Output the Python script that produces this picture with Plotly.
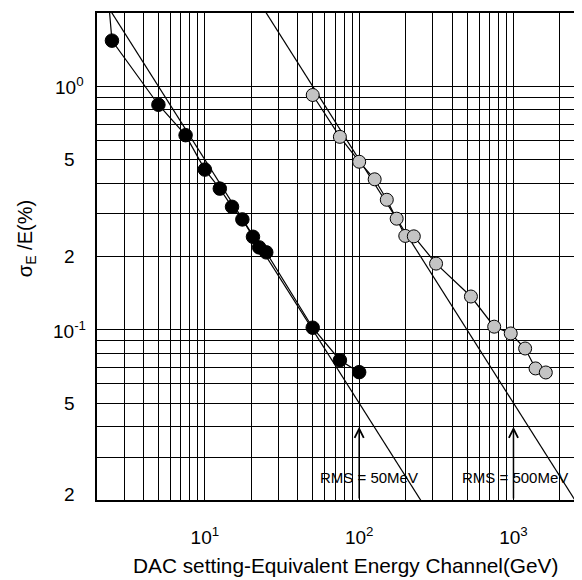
import numpy as np
import plotly.graph_objects as go

# ---- data ----
black_E = [2.25, 2.5, 5, 7.5, 10, 12.5, 15, 17.5, 20.5, 22.5, 25, 50, 75, 100]
black_sigma = [3.4, 1.54, 0.84, 0.63, 0.455, 0.38, 0.32, 0.284, 0.241, 0.218, 0.208, 0.102, 0.075, 0.067]

gray_E = [50, 75, 100, 126, 151, 175, 199, 226, 315, 530, 750, 960, 1190, 1390, 1620]
gray_sigma = [0.921, 0.62, 0.49, 0.415, 0.342, 0.286, 0.243, 0.242, 0.187, 0.137, 0.103, 0.0966, 0.0838, 0.0694, 0.0668]

rms_gev = [0.05, 0.5]                      # noise RMS in GeV
rms_labels = ["RMS = 50MeV", "RMS = 500MeV"]
rms_label_E = [115, 1020]
rms_label_sigma = 0.0247
arrow_E = [100, 1000]
arrow_tip = 0.04
arrow_base = 0.02
line_E = [1.0, 10000.0]

x_grid = [3, 4, 5, 6, 7, 8, 9, 10, 20, 30, 40, 50, 60, 70, 80, 90,
          100, 200, 300, 400, 500, 600, 700, 800, 900, 1000, 2000]
x_tick_text = {10: "10<sup>1</sup>", 100: "10<sup>2</sup>", 1000: "10<sup>3</sup>"}

y_grid = [0.03, 0.04, 0.05, 0.06, 0.07, 0.08, 0.09, 0.1,
          0.2, 0.3, 0.4, 0.5, 0.6, 0.7, 0.8, 0.9, 1.0]
y_label_vals = [0.02, 0.05, 0.1, 0.2, 0.5, 1.0]
y_label_text = ["2", "5", "10<sup>-1</sup>", "2", "5", "10<sup>0</sup>"]

FONT = "Liberation Sans, Arial, Helvetica, sans-serif"

fig = go.Figure()

# RMS noise lines: sigma_E/E (%) = 100 * rms / E
for rms in rms_gev:
    fig.add_trace(go.Scatter(
        x=line_E, y=[100.0 * rms / e for e in line_E], mode="lines",
        line=dict(color="black", width=1.2), showlegend=False, hoverinfo="skip"))

fig.add_trace(go.Scatter(
    x=black_E, y=black_sigma, mode="lines+markers",
    line=dict(color="black", width=1.2),
    marker=dict(size=13.5, color="black", line=dict(color="black", width=1)),
    showlegend=False))

fig.add_trace(go.Scatter(
    x=gray_E, y=gray_sigma, mode="lines+markers",
    line=dict(color="black", width=1.2),
    marker=dict(size=13, color="#c4c4c4", line=dict(color="black", width=1)),
    showlegend=False))

annotations = []
for v, t in zip(y_label_vals, y_label_text):
    annotations.append(dict(
        x=-0.0577, xref="paper", y=np.log10(v), yref="y", text=t,
        showarrow=False, xanchor="center", yanchor="middle",
        yshift=6 if v == y_label_vals[0] else 0,
        font=dict(family=FONT, size=19, color="black")))

for lbl, xe, ae in zip(rms_labels, rms_label_E, arrow_E):
    annotations.append(dict(
        x=np.log10(xe), xref="x", y=np.log10(rms_label_sigma), yref="y",
        text=lbl, showarrow=False, xanchor="center", yanchor="middle",
        font=dict(family=FONT, size=15, color="black")))
    annotations.append(dict(
        x=np.log10(ae), y=np.log10(arrow_tip), xref="x", yref="y",
        ax=np.log10(ae), ay=np.log10(arrow_base), axref="x", ayref="y",
        showarrow=True, arrowhead=5, arrowsize=1.2, arrowwidth=1.5,
        arrowcolor="black", standoff=0, text=""))

annotations.append(dict(
    x=0.513, xref="paper", y=-0.1355, yref="paper",
    text="DAC setting-Equivalent Energy Channel(GeV)", showarrow=False,
    xanchor="center", yanchor="middle",
    font=dict(family=FONT, size=20.8, color="black")))

annotations.append(dict(
    x=-0.144, xref="paper", y=0.536, yref="paper",
    text="σ<sub>E</sub> /E(%)", showarrow=False, textangle=-90,
    xanchor="center", yanchor="middle",
    font=dict(family=FONT, size=20, color="black")))

# the page body has an 8px default margin, so the figure is 8px smaller
fig.update_layout(
    width=574, height=572,
    margin=dict(l=89, r=0, t=5, b=80),
    paper_bgcolor="white", plot_bgcolor="white",
    font=dict(family=FONT, color="black"),
    annotations=annotations,
    xaxis=dict(
        type="log", range=[np.log10(2), np.log10(2780)],
        tickvals=x_grid, ticktext=[x_tick_text.get(v, "") for v in x_grid],
        showgrid=True, gridcolor="black", gridwidth=1,
        showline=True, linecolor="black", linewidth=2, mirror=True,
        ticks="", ticklabelstandoff=19,
        tickfont=dict(family=FONT, size=19, color="black"),
        zeroline=False),
    yaxis=dict(
        type="log", range=[np.log10(0.02), np.log10(2)],
        tickvals=y_grid, showticklabels=False,
        showgrid=True, gridcolor="black", gridwidth=1,
        showline=True, linecolor="black", linewidth=2, mirror=False,
        ticks="", zeroline=False),
)

fig.write_html("out.html")
